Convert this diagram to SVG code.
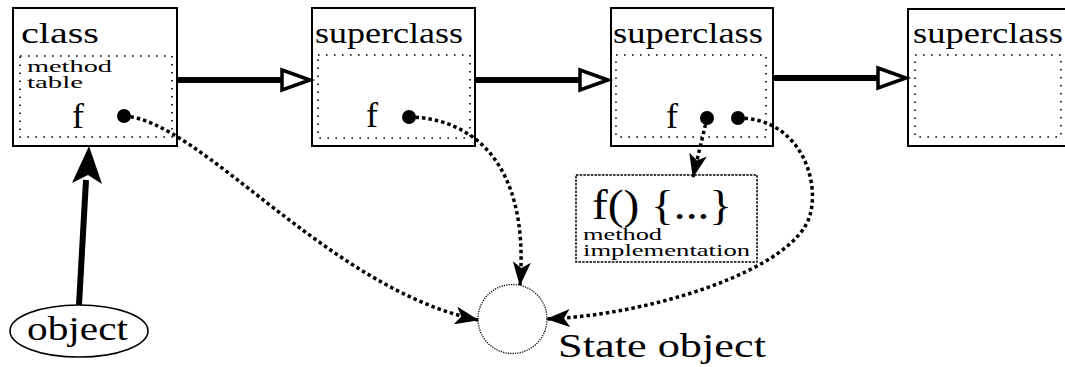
<svg xmlns="http://www.w3.org/2000/svg" width="1065" height="367" viewBox="0 0 1065 367">
<style>
.big{font-size:30px}
.small{font-size:16px}
.box{fill:#fff;stroke:#000;stroke-width:2}
.inner{fill:none;stroke:#000;stroke-width:1.6;stroke-dasharray:1.6 6.4}
.inh{stroke:#000;stroke-width:6;fill:none}
.tri{fill:#fff;stroke:#000;stroke-width:3.5;stroke-linejoin:miter}
.dot{fill:#000}
.ptr{fill:none;stroke:#000;stroke-width:3.5;stroke-dasharray:3.5 3}
</style>
<defs>
<marker id="ah" markerUnits="userSpaceOnUse" viewBox="0 0 24 18" markerWidth="24" markerHeight="18" refX="23" refY="9" orient="auto">
<path d="M0,0 L24,9 L0,18 L6,9 Z" fill="#000"/>
</marker>
</defs>
<g font-family="Liberation Serif, serif" fill="#000">
<g id="class">
<rect class="box" x="13" y="8" width="164" height="138"/>
<rect class="inner" x="20" y="56" width="152" height="81"/>
<text class="big" x="21" y="43" textLength="78" lengthAdjust="spacingAndGlyphs">class</text>
<text class="small" x="27" y="72" textLength="85" lengthAdjust="spacingAndGlyphs">method</text>
<text class="small" x="27" y="88" textLength="56" lengthAdjust="spacingAndGlyphs">table</text>
<text x="72" y="128" font-size="36">f</text>
<circle class="dot" cx="124" cy="116" r="7"/>
</g>

<g id="superclass1">
<rect class="box" x="312" y="8" width="163" height="138"/>
<rect class="inner" x="318" y="55" width="152" height="83"/>
<text class="big" x="315" y="43" textLength="148" lengthAdjust="spacingAndGlyphs">superclass</text>
<text x="366" y="127" font-size="36">f</text>
<circle class="dot" cx="409" cy="117" r="7"/>
</g>

<g id="superclass2">
<rect class="box" x="611" y="8" width="162" height="138"/>
<rect class="inner" x="616" y="55" width="150" height="82"/>
<text class="big" x="613" y="43" textLength="150" lengthAdjust="spacingAndGlyphs">superclass</text>
<text x="666" y="128" font-size="36">f</text>
<circle class="dot" cx="707" cy="118" r="7"/>
<circle class="dot" cx="738" cy="118" r="7"/>
</g>

<g id="superclass3">
<rect class="box" x="908" y="9" width="170" height="137"/>
<rect class="inner" x="915" y="55" width="146" height="82"/>
<text class="big" x="913" y="43" textLength="150" lengthAdjust="spacingAndGlyphs">superclass</text>
</g>

<g id="implementation">
<rect x="576" y="175" width="181" height="87" fill="#fff" stroke="#000" stroke-width="1.5" stroke-dasharray="2.5 1.2"/>
<text x="592" y="219" font-size="42" textLength="140" lengthAdjust="spacingAndGlyphs">f() {...}</text>
<text class="small" x="583" y="240" textLength="79" lengthAdjust="spacingAndGlyphs">method</text>
<text class="small" x="583" y="256" textLength="167" lengthAdjust="spacingAndGlyphs">implementation</text>
</g>

<g id="object">
<ellipse cx="79" cy="331" rx="69" ry="26" fill="#fff" stroke="#000" stroke-width="1.6"/>
<text x="27" y="340" font-size="33" textLength="101" lengthAdjust="spacingAndGlyphs">object</text>
</g>

<g id="state">
<circle cx="512.5" cy="319" r="34.5" fill="#fff" stroke="#000" stroke-width="1.3" stroke-dasharray="1.2 1.2"/>
<text x="558" y="357" font-size="33" textLength="208" lengthAdjust="spacingAndGlyphs">State object</text>
</g>
</g>

<g id="connectors">
<line class="inh" x1="177" y1="80" x2="283" y2="80"/>
<path class="tri" d="M282,70 L310,80 L282,90 Z"/>
<line class="inh" x1="475" y1="80" x2="581" y2="80"/>
<path class="tri" d="M580,70 L608,80 L580,90 Z"/>
<line class="inh" x1="773" y1="78" x2="879" y2="78"/>
<path class="tri" d="M878,68 L906,78 L878,88 Z"/>

<line x1="79" y1="305" x2="86" y2="180" stroke="#000" stroke-width="6"/>
<path d="M89,146 L102,184 L88,175 L72,183 Z" fill="#000"/>

<path class="ptr" d="M124,116 C200,120 330,290 478,320" marker-end="url(#ah)"/>
<path class="ptr" d="M409,117 C470,118 530,160 520,285" marker-end="url(#ah)"/>
<path class="ptr" d="M738,118 C800,118 820,180 810,215 C795,270 650,315 547,319" marker-end="url(#ah)"/>
<path class="ptr" d="M707,118 C702,140 698,155 693,177" marker-end="url(#ah)"/>
</g>
</svg>
